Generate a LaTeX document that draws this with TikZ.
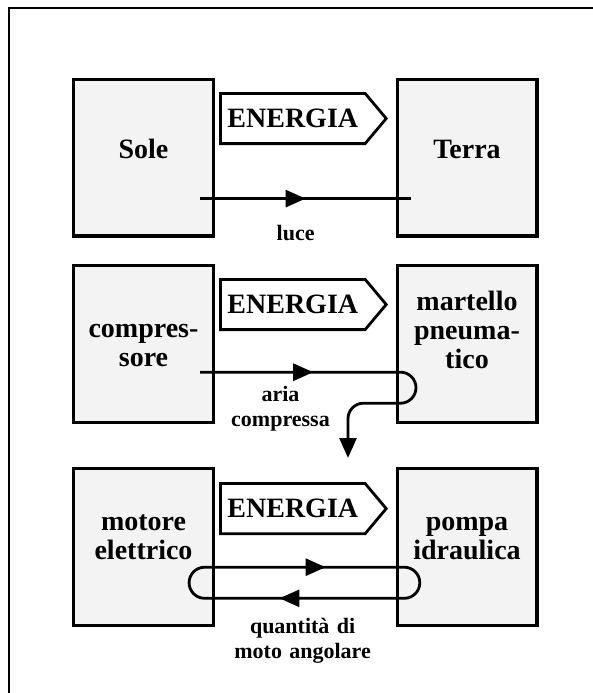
\documentclass[tikz,border=0pt]{standalone}
\usepackage{fontspec}
\setmainfont{Liberation Serif}
\usepackage{xcolor}
\usepackage{tikz}
\usetikzlibrary{calc, arrows.meta, shapes.symbols, decorations.markings}
\definecolor{PaleGray}{HTML}{F3F3F3}

\begin{document}
\begin{tikzpicture}[
    x=1pt, y=-1pt,
    >={Triangle[length=20pt, width=17pt]},
    box/.style={draw, line width=3.2pt, fill=PaleGray,
                minimum width=139.8pt, minimum height=156.8pt,
                text width=135pt, inner sep=2pt, align=center,
                text height=20pt,
                font=\fontsize{28}{29}\selectfont\bfseries},
    flow/.style={draw, line width=2.8pt, fill=white,
                 shape=signal, signal to=east, signal pointer angle=100,
                 minimum height=50.2pt, inner xsep=7pt,
                 font=\fontsize{28}{30}\selectfont\bfseries},
    arr/.style={line width=2.8pt, rounded corners=15.5pt},
    lab/.style={font=\fontsize{22}{25}\selectfont\bfseries,
                text width=160pt, align=center, inner sep=0pt, anchor=base}
  ]
    \useasboundingbox (0,0) rectangle (593,693);

    % frame (top and left side only)
    \draw[line width=2pt] (593,8) -- (9.3,8) -- (9.3,693);

    % Row 1
    \node[box, text depth=17.2pt] (sole)  at (143.5,157.5) {Sole};
    \node[box, text depth=17.2pt] (terra) at (467,157.5)   {Terra};
    \node[flow] (en1) at (292.8,118.5) {ENERGIA};

    % Row 2
    \node[box, text depth=32.6pt] (compr)    at (143.5,344) {compres-\\sore};
    \node[box, text depth=87pt]   (martello) at (467,344)   {martello\\pneuma-\\tico};
    \node[flow] (en2) at (292.8,304.5) {ENERGIA};

    % Row 3
    \node[box, text depth=53.2pt] (motore) at (143.5,546.8) {motore\\elettrico};
    \node[box, text depth=53.2pt] (pompa)  at (467,546.8)   {pompa\\idraulica};
    \node[flow] (en3) at (292.8,508.6) {ENERGIA};

    % light: straight through
    \coordinate (luce-a) at ($(sole.center)+(56.5,41.1)$);
    \coordinate (luce-b) at ($(terra.center)+(-56,41.1)$);
    \draw[arr, decoration={markings, mark=at position 105.6pt with {\arrow{>}}},
          postaction={decorate}] (luce-a) -- (luce-b);

    % compressed air: in, turn round, out below
    \coordinate (aria-a) at ($(compr.center)+(56.5,28.2)$);
    \draw[arr, ->, decoration={markings, mark=at position 113.2pt with {\arrow{>}}},
          postaction={decorate}]
      (aria-a) -- ++(216,0) -- ++(0,31) -- ++(-68,0) -- ++(0,54.8);

    % angular momentum: closed loop
    \coordinate (rot-a) at ($(motore.center)+(96.5,20.4)$);
    \draw[arr, rounded corners=15.55pt,
          decoration={markings,
            mark=at position 70.1pt with {\arrow{>}},
            mark=at position 322.4pt with {\arrow{>}}},
          postaction={decorate}]
      (rot-a) -- ++(179.8,0) -- ++(0,31.1) -- ++(-230.7,0) -- ++(0,-31.1) -- cycle;

    % labels
    \node[lab] (luce)  at (295.6,240)   {luce};
    \node[lab] (aria)  at (280.5,401.3) {aria\\compressa};
    \node[lab] (qmoto) at (302.6,633.4) {quantità di\\moto angolare};
\end{tikzpicture}
\end{document}
